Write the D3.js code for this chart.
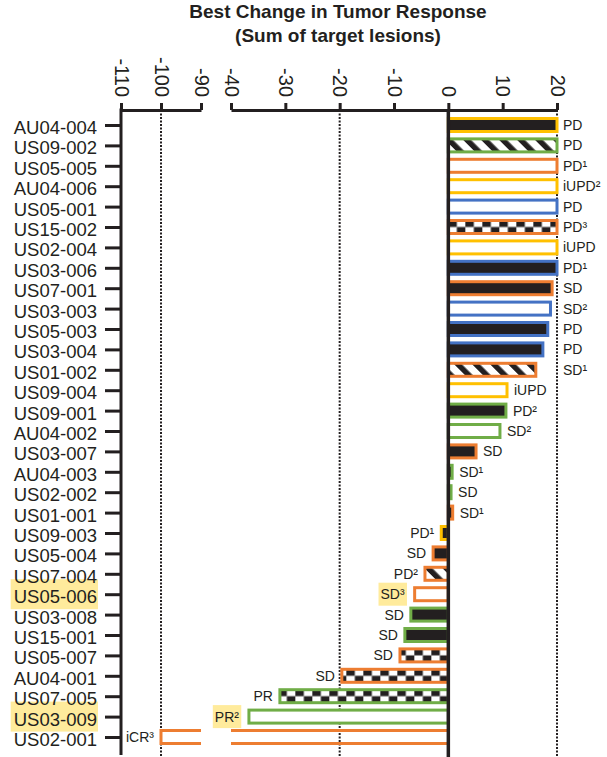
<!DOCTYPE html>
<html>
<head>
    <title>Best Change in Tumor Response</title>
    <script src="https://d3js.org/d3.v7.min.js"></script>
    <style>
        body { margin: 0; background: white; }
        text { font-family: "Liberation Sans", Arial, sans-serif; fill: #231F20; }
    </style>
</head>
<body>
    <div id="chart"></div>

    <script>
        // Patients, top to bottom
        const patients = [
            "AU04-004", "US09-002", "US05-005", "AU04-006", "US05-001", "US15-002",
            "US02-004", "US03-006", "US07-001", "US03-003", "US05-003", "US03-004",
            "US01-002", "US09-004", "US09-001", "AU04-002", "US03-007", "AU04-003",
            "US02-002", "US01-001", "US09-003", "US05-004", "US07-004", "US05-006",
            "US03-008", "US15-001", "US05-007", "AU04-001", "US07-005", "US03-009",
            "US02-001"
        ];
        // Best % change in sum of target lesions (capped at 20 on the chart)
        const changes = [
            20, 20, 20, 20, 20, 20, 20, 20, 19.1, 18.8, 18.3, 17.4,
            16.1, 10.8, 10.6, 9.5, 5.1, 0.7, 0.5, 0.8, -1.3, -2.8, -4.3, -6.2,
            -6.9, -8.0, -8.9, -19.6, -31, -36.7, -100
        ];
        const outlines = [
            "yellow", "green", "orange", "yellow", "blue", "orange", "yellow", "blue",
            "orange", "blue", "blue", "blue", "orange", "yellow", "green", "green",
            "orange", "green", "green", "orange", "yellow", "orange", "orange", "orange",
            "green", "green", "orange", "orange", "green", "green", "orange"
        ];
        const fills = [
            "solid", "stripe", "none", "none", "none", "check", "none", "solid",
            "solid", "none", "solid", "solid", "stripe", "none", "solid", "none",
            "solid", "solid", "none", "solid", "solid", "solid", "stripe", "none",
            "solid", "solid", "check", "check", "check", "none", "none"
        ];
        const responses = [
            "PD", "PD", "PD¹", "iUPD²", "PD", "PD³", "iUPD", "PD¹", "SD", "SD²", "PD", "PD",
            "SD¹", "iUPD", "PD²", "SD²", "SD", "SD¹", "SD", "SD¹", "PD¹", "SD", "PD²", "SD³",
            "SD", "SD", "SD", "SD", "PR", "PR²", "iCR³"
        ];
        const highlighted = ["US05-006", "US03-009"];

        // broken x axis: two segments
        const leftTicks = [-110, -100, -90];
        const rightTicks = [-40, -30, -20, -10, 0, 10, 20];
        const dottedAt = [-100, -20, 20];

        const colors = {
            yellow: "#FFC000",
            green: "#70AD47",
            orange: "#ED7D31",
            blue: "#4472C4",
            ink: "#231F20",
            mark: "#FFEB9C"
        };

        const width = 607, height = 757;
        const axisY = 110, bottomY = 755;

        const data = patients.map((id, i) => ({
            id, value: changes[i], outline: outlines[i], fill: fills[i], resp: responses[i]
        }));

        const svg = d3.select("#chart").append("svg")
            .attr("width", width)
            .attr("height", height);

        const xL = d3.scaleLinear().domain([-110, -90]).range([121, 201]);
        const xR = d3.scaleLinear().domain([-40, 20]).range([231, 557]);
        const xPos = v => v < -40 ? xL(v) : xR(v);

        const y = d3.scalePoint().domain(patients).range([125, 737]);
        const barH = 13;

        // Patterns
        const defs = svg.append("defs");
        const stripe = defs.append("pattern")
            .attr("id", "stripe")
            .attr("patternUnits", "userSpaceOnUse")
            .attr("width", 12.7).attr("height", 12.7)
            .attr("patternTransform", "rotate(-45)");
        stripe.append("rect").attr("width", 12.7).attr("height", 12.7).attr("fill", "white");
        stripe.append("rect").attr("width", 5.5).attr("height", 12.7).attr("fill", colors.ink);

        // one checker pattern per bar so the squares line up with each bar
        data.filter(d => d.fill === "check").forEach(d => {
            const p = defs.append("pattern")
                .attr("id", "check-" + d.id)
                .attr("patternUnits", "userSpaceOnUse")
                .attr("x", xR(0)).attr("y", y(d.id) - barH / 2)
                .attr("width", 17).attr("height", barH);
            p.append("rect").attr("width", 17).attr("height", barH).attr("fill", "white");
            p.append("rect").attr("x", 0).attr("y", 0).attr("width", 8.5).attr("height", barH / 2).attr("fill", colors.ink);
            p.append("rect").attr("x", 8.5).attr("y", barH / 2).attr("width", 8.5).attr("height", barH / 2).attr("fill", colors.ink);
        });

        const fillOf = d => d.fill === "solid" ? colors.ink
            : d.fill === "stripe" ? "url(#stripe)"
            : d.fill === "check" ? `url(#check-${d.id})`
            : "white";

        // highlight boxes sit underneath everything else
        const hlLayer = svg.append("g").attr("class", "highlights");

        // Title
        svg.append("text")
            .attr("x", 338).attr("y", 18)
            .attr("text-anchor", "middle")
            .style("font-size", "19px").style("font-weight", "bold")
            .text("Best Change in Tumor Response");
        svg.append("text")
            .attr("x", 338).attr("y", 42)
            .attr("text-anchor", "middle")
            .style("font-size", "19px").style("font-weight", "bold")
            .text("(Sum of target lesions)");

        // Dotted reference lines
        svg.selectAll(".dotted")
            .data(dottedAt)
            .enter()
            .append("line")
            .attr("class", "dotted")
            .attr("x1", d => xPos(d)).attr("x2", d => xPos(d))
            .attr("y1", axisY).attr("y2", height)
            .attr("stroke", colors.ink)
            .attr("stroke-width", 2)
            .attr("stroke-dasharray", "2,1.5");

        // Bars (normal ones)
        const normal = data.filter(d => d.value >= -40);
        svg.selectAll(".bar")
            .data(normal)
            .enter()
            .append("rect")
            .attr("class", "bar")
            .attr("x", d => Math.min(xR(0), xR(d.value)))
            .attr("y", d => y(d.id) - barH / 2)
            .attr("width", d => Math.abs(xR(d.value) - xR(0)))
            .attr("height", barH)
            .attr("fill", fillOf)
            .attr("stroke", d => colors[d.outline])
            .attr("stroke-width", 3);

        // Bars running past the axis break
        data.filter(d => d.value < -40).forEach(d => {
            const g = svg.append("g")
                .attr("stroke", colors[d.outline])
                .attr("stroke-width", 3)
                .attr("fill", "none");
            const top = y(d.id) - barH / 2, bot = y(d.id) + barH / 2;
            [[xR(-40), xR(0)], [xL(d.value), xL(-90)]].forEach(([a, b]) => {
                g.append("line").attr("x1", a).attr("x2", b).attr("y1", top).attr("y2", top);
                g.append("line").attr("x1", a).attr("x2", b).attr("y1", bot).attr("y2", bot);
            });
            g.append("line")
                .attr("x1", xL(d.value)).attr("x2", xL(d.value))
                .attr("y1", top - 1.5).attr("y2", bot + 1.5);
        });

        // Response labels
        const labelX = d => {
            if (d.value >= 15) return xR(20) + 6;
            if (d.value >= 0) return xR(d.value) + 7;
            return xPos(d.value) - (highlighted.includes(d.id) ? 10 : 7);
        };
        const resp = svg.selectAll(".resp")
            .data(data)
            .enter()
            .append("text")
            .attr("class", "resp")
            .attr("x", labelX)
            .attr("y", d => y(d.id) + 5)
            .attr("text-anchor", d => d.value >= 0 ? "start" : "end")
            .style("font-size", "14px")
            .text(d => d.resp);
        resp.filter(d => highlighted.includes(d.id)).each(function () {
            const b = this.getBBox();
            hlLayer.append("rect")
                .attr("x", b.x - 2).attr("y", b.y + b.height / 2 - 11.5)
                .attr("width", b.width + 4).attr("height", 23)
                .attr("fill", colors.mark);
        });

        // Top axes
        const styleAxis = g => {
            g.attr("font-family", null);
            g.select(".domain").attr("stroke", colors.ink).attr("stroke-width", 3);
            g.selectAll(".tick line").attr("stroke", colors.ink).attr("stroke-width", 3);
            g.selectAll(".tick text")
                .attr("transform", "translate(0,-13) rotate(90)")
                .attr("x", 0).attr("y", 0)
                .attr("dy", "0.35em")
                .attr("text-anchor", "end")
                .style("font-size", "20px")
                .attr("fill", colors.ink);
        };
        const plain = d => String(d);
        svg.append("g")
            .attr("transform", `translate(0,${axisY})`)
            .call(d3.axisTop(xL).tickValues(leftTicks).tickSize(7).tickSizeOuter(0).tickFormat(plain))
            .call(styleAxis);
        svg.append("g")
            .attr("transform", `translate(0,${axisY})`)
            .call(d3.axisTop(xR).tickValues(rightTicks).tickSize(7).tickSizeOuter(0).tickFormat(plain))
            .call(styleAxis);

        // Zero line
        svg.append("line")
            .attr("x1", xR(0)).attr("x2", xR(0))
            .attr("y1", axisY).attr("y2", height)
            .attr("stroke", colors.ink)
            .attr("stroke-width", 3.5);

        // Left axis with patient ids
        svg.append("line")
            .attr("x1", 121).attr("x2", 121)
            .attr("y1", axisY - 1.5).attr("y2", bottomY)
            .attr("stroke", colors.ink)
            .attr("stroke-width", 3);

        const yAxis = svg.append("g")
            .attr("transform", "translate(121,0)")
            .call(d3.axisLeft(y).tickSize(16).tickSizeOuter(0))
            .attr("font-family", null);
        yAxis.select(".domain").remove();
        yAxis.selectAll(".tick line").attr("stroke", colors.ink).attr("stroke-width", 3);
        yAxis.selectAll(".tick text")
            .attr("x", -24)
            .attr("dy", null)
            .attr("y", 8.5)
            .style("font-size", "18.5px")
            .attr("fill", colors.ink);
        yAxis.selectAll(".tick")
            .filter(d => highlighted.includes(d))
            .each(function (d) {
                const b = d3.select(this).select("text").node().getBBox();
                hlLayer.append("rect")
                    .attr("x", 121 + b.x - 3).attr("y", y(d) - 15)
                    .attr("width", b.width + 4).attr("height", 30)
                    .attr("fill", colors.mark);
            });
    </script>
</body>
</html>
